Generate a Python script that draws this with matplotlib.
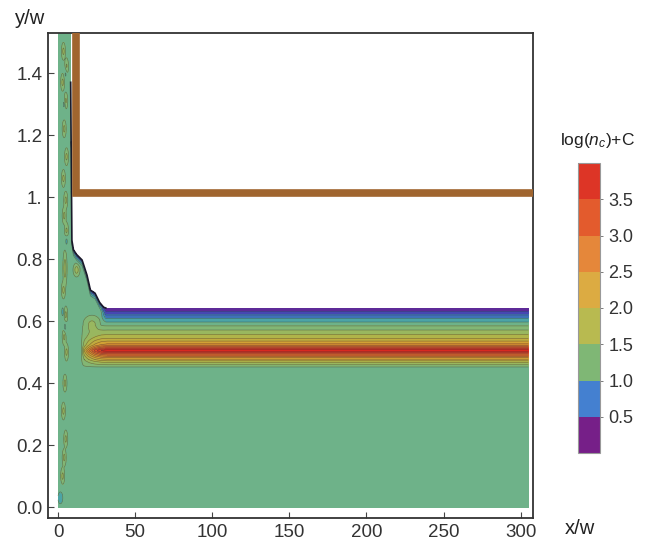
import numpy as np
import matplotlib
matplotlib.use("Agg")
import matplotlib.pyplot as plt
from matplotlib.colors import LinearSegmentedColormap, ListedColormap, BoundaryNorm
import matplotlib.colorbar as mcolorbar

plt.rcParams['font.family'] = ['Liberation Sans', 'DejaVu Sans']
plt.rcParams['mathtext.fontset'] = 'custom'
plt.rcParams['mathtext.rm'] = 'Liberation Sans'
plt.rcParams['mathtext.it'] = 'Liberation Sans:italic'

###############################################################################
# Values

# level of log(n_c)+C far from the lower-left corner, as a function of y/w
prof_y = [0.000, 0.440, 0.452, 0.468, 0.484, 0.497, 0.505, 0.513, 0.523,
          0.548, 0.577, 0.597, 0.615, 0.629, 0.642]
prof_v = [1.20, 1.20, 1.25, 1.80, 2.60, 3.40, 3.95, 3.30, 2.60,
          1.90, 1.40, 1.00, 0.60, 0.30, 0.05]

# upper edge of the filled region (x/w, y/w); left of x=8.2 fills to the top
edge_x = [8.2, 9.0, 10.0, 12.0, 15.6, 18.8, 21.0, 24.0, 27.0, 29.5, 31.0, 305.0]
edge_y = [1.37, 0.86, 0.83, 0.815, 0.797, 0.748, 0.70, 0.69, 0.66, 0.645, 0.642, 0.642]

# drop of the level just under that edge (distance below edge -> drop)
drop_d = [0.0, 0.006, 0.012, 0.020, 0.030]
drop_v = [1.15, 0.75, 0.45, 0.15, 0.0]

# how far the band has built up along x/w (rising side / falling side)
ramp_x = [0, 15, 17, 20, 24, 28, 32, 305]
ramp_v = [0, 0, 0.30, 0.55, 0.80, 0.95, 1.0, 1.0]
ramp2_x = [0, 27, 31, 305]
ramp2_v = [0, 0, 1.0, 1.0]

# small islands near the wall: x, y, change of level, size x, size y
isl_x = [3.5, 5.5, 3.0, 5.0, 4.0, 5.5, 3.5, 5.0, 4.0, 5.5, 4.5, 3.5, 5.0,
         4.0, 5.5, 4.5, 3.5, 5.0, 4.0, 3.0, 5.0, 4.0, 5.5, 3.0, 4.5,
         12.0, 22.0, 1.5]
isl_y = [1.47, 1.42, 1.37, 1.31, 1.22, 1.13, 1.06, 0.99, 0.94, 0.89, 0.77,
         0.70, 0.62, 0.55, 0.50, 0.40, 0.31, 0.22, 0.16, 0.10, 1.40, 1.30,
         0.86, 0.63, 0.58, 0.765, 0.59, 0.03]
isl_a = [0.4, 0.4, 0.4, 0.4, 0.4, 0.4, 0.4, 0.4, 0.4, 0.4, 0.5, 0.4, 0.4,
         0.4, 0.4, 0.4, 0.4, 0.4, 0.4, 0.4, -0.3, -0.3, -0.3, -0.3, -0.3,
         0.5, 0.4, -0.3]
isl_sx = [0.9] * 25 + [1.5, 4.0, 2.5]
isl_sy = [0.02] * 10 + [0.04] + [0.02] * 14 + [0.015, 0.02, 0.03]

# brown wall
wall_x = 11.5
wall_y = 1.013

levels = np.arange(0, 4.01, 0.25)
plot_pos = [0.0, 0.5, 0.85, 1.1, 1.5, 1.9, 2.4, 2.9, 3.4, 4.0]
plot_col = ['#6A1B8A', '#3A55C0', '#48A2AA', '#6BB28B', '#8DB86A',
            '#B2B447', '#D3A034', '#DD7A2C', '#E0502A', '#E3201E']

cb_bounds = np.arange(0, 4.01, 0.5)
cb_colors = ['#761F88', '#4480D0', '#7FB775', '#B8BA50',
             '#DCAB42', '#E5873A', '#E35B2D', '#DD3526']
cb_ticks = [0.5, 1.0, 1.5, 2.0, 2.5, 3.0, 3.5]

x_ticks = [0, 50, 100, 150, 200, 250, 300]
y_ticks = [0.0, 0.2, 0.4, 0.6, 0.8, 1.0, 1.2, 1.4]
y_ticklabels = ['0.0', '0.2', '0.4', '0.6', '0.8', '1.', '1.2', '1.4']

###############################################################################
# Build the field

xs = np.linspace(0, 305, 1221)
ys = np.linspace(0, 1.53, 766)
X, Y = np.meshgrid(xs, ys)

top = np.where(xs >= 8.2, np.interp(xs, edge_x, edge_y), np.inf)
TOP = np.broadcast_to(top, X.shape)
d = TOP - Y

drop = np.interp(d, drop_d, drop_v, right=0.0)
P = np.interp(ys, prof_y, prof_v, right=0.05)
bump = P + np.interp(0.642 - ys, drop_d, drop_v, left=1.15, right=0.0) - 1.2
bump = np.where(ys > 0.642, 0.0, bump)
B = np.broadcast_to(bump[:, None], X.shape)
R1 = np.interp(X, ramp_x, ramp_v)
R2 = np.interp(X, ramp2_x, ramp2_v)

Z = 1.2 + R1 * np.maximum(B, 0) + R2 * np.minimum(B, 0) - drop
for x0, y0, a, sx, sy in zip(isl_x, isl_y, isl_a, isl_sx, isl_sy):
    Z += a * np.exp(-((X - x0) / sx) ** 2 - ((Y - y0) / sy) ** 2)

Z = np.ma.masked_where(Y > TOP, Z)

###############################################################################
# Plot

fig = plt.figure(figsize=(6.64, 5.47), dpi=100)
ax = fig.add_axes([48 / 664, 29 / 547, 485 / 664, 485 / 547])

cmap = LinearSegmentedColormap.from_list(
    'nc', [(p / 4.0, c) for p, c in zip(plot_pos, plot_col)])
ax.contourf(X, Y, Z, levels=levels, cmap=cmap, vmin=0, vmax=4, extend='both')
ax.contour(X, Y, Z, levels=levels, colors='#333333', linewidths=0.45, alpha=0.5)

# dark outline along the sloped part of the edge
sel = [i for i, v in enumerate(edge_x) if v <= 31]
ax.plot([edge_x[i] for i in sel], [edge_y[i] for i in sel],
        color='#1a1a2a', lw=1.2, zorder=3)

ax.plot([wall_x, wall_x, 320], [1.7, wall_y, wall_y], color='#A0652F',
        lw=5.5, solid_joinstyle='miter', zorder=4)

ax.set_xlim(-6.5, 308)
ax.set_ylim(-0.035, 1.529)
ax.set_xticks(x_ticks)
ax.set_yticks(y_ticks)
ax.set_yticklabels(y_ticklabels)
ax.tick_params(direction='in', length=4, width=0.8, color='#444444',
               labelsize=13.5, labelcolor='#333333', pad=4)
for s in ax.spines.values():
    s.set_color('#333333')
    s.set_linewidth(1.3)

fig.text(30 / 664, 1 - 18 / 547, 'y/w', fontsize=14.5, color='#222222',
         ha='center', va='center')
fig.text(580 / 664, 1 - 529 / 547, 'x/w', fontsize=14.5, color='#222222',
         ha='center', va='center')

# Colour legend
cax = fig.add_axes([578 / 664, 94 / 547, 22 / 664, 290 / 547])
cb = mcolorbar.ColorbarBase(cax, cmap=ListedColormap(cb_colors),
                            norm=BoundaryNorm(cb_bounds, len(cb_colors)),
                            ticks=cb_ticks, orientation='vertical')
cb.ax.set_yticklabels(['%.1f' % t for t in cb_ticks])
cb.ax.tick_params(length=2, width=0.6, color='#666666', labelsize=13,
                  labelcolor='#333333', pad=4)
cb.ax.minorticks_off()
cb.outline.set_edgecolor('#999999')
cb.outline.set_linewidth(0.8)
fig.text(597 / 664, 1 - 140 / 547, r'log($n_c$)+C', fontsize=12.5,
         color='#222222', ha='center', va='center')

fig.savefig('out.png', dpi=100)
